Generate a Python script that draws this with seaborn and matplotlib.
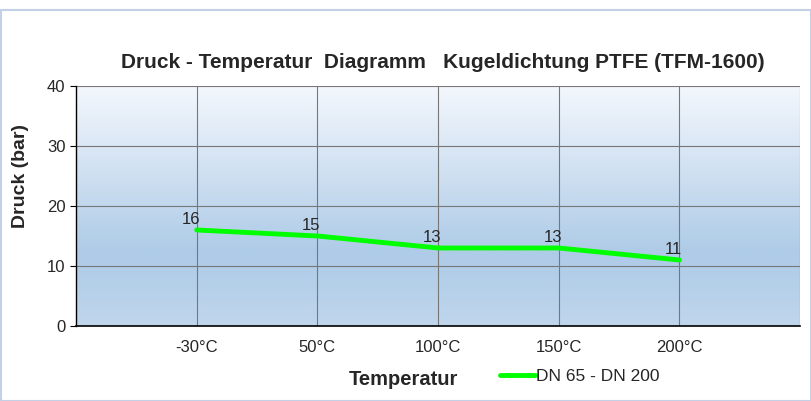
import numpy as np
import pandas as pd
import seaborn as sns
import matplotlib.pyplot as plt
from matplotlib.patches import Rectangle

temperatures = ['-30°C', '50°C', '100°C', '150°C', '200°C']
pressure = [16, 15, 13, 13, 11]
series_name = 'DN 65 - DN 200'

df = pd.DataFrame({'pos': np.arange(1, len(temperatures) + 1),
                   'Temperatur': temperatures,
                   'Druck': pressure})

sns.set_style('white')
plt.rcParams['font.family'] = ['Liberation Sans', 'DejaVu Sans']

fig = plt.figure(figsize=(8.11, 4.01), dpi=100)
ax = fig.add_axes([76 / 811, 1 - 326 / 401, 724 / 811, 240 / 401])

# outer frame of the chart object
fig.patches.append(Rectangle((0.001, 0), 0.999, 1 - 10 / 401, transform=fig.transFigure,
                             fill=False, edgecolor='#c3d0e6', linewidth=1.5))

# gradient background of the plot area (light at top, darker blue lower down)
grad = np.concatenate([np.linspace(0, 1, 70), np.linspace(1, 0.75, 30)])[:, None]
cmap = plt.matplotlib.colors.LinearSegmentedColormap.from_list('bg', ['#f3f7fd', '#aecbe7'])
ax.imshow(grad, extent=[0, 6, 0, 40], aspect='auto', cmap=cmap, zorder=0)

sns.lineplot(data=df, x='pos', y='Druck', color='#00ff00', linewidth=3.5,
             label=series_name, ax=ax, zorder=3)

for x, y in zip(df['pos'], df['Druck']):
    ax.text(x - 0.05, y + 0.5, str(y), ha='center', va='bottom', fontsize=12, zorder=4)

ax.set_xlim(0, 6)
ax.set_ylim(0, 40)
ax.set_xticks(df['pos'])
ax.set_xticklabels(temperatures, fontsize=12)
ax.set_xticks([0, 6], minor=True)
ax.tick_params(axis='x', which='major', length=0, pad=10)
ax.tick_params(axis='x', which='minor', length=5, color='#999999')
ax.set_yticks([0, 10, 20, 30, 40])
ax.tick_params(axis='y', labelsize=12, length=4, color='black', left=True)

for v in [1, 2, 3, 4, 5, 6]:
    ax.axvline(v, color='#777777', linewidth=0.8, zorder=1)
for v in [10, 20, 30, 40]:
    ax.axhline(v, color='#777777', linewidth=0.8, zorder=1)

for s in ['top', 'right']:
    ax.spines[s].set_visible(False)
ax.spines['left'].set_color('black')
ax.spines['bottom'].set_color('black')
ax.spines['left'].set_linewidth(1)
ax.spines['bottom'].set_linewidth(1.2)

ax.set_xlabel('Temperatur', fontsize=14.5, fontweight='bold')
ax.xaxis.set_label_coords((403 - 76) / 724, -(370 - 326) / 240)
ax.set_ylabel('Druck (bar)', fontsize=14, fontweight='bold')
ax.yaxis.set_label_coords(-(76 - 29) / 724, (326 - 176) / 240)
fig.text(443 / 811, 1 - 62 / 401, 'Druck - Temperatur  Diagramm   Kugeldichtung PTFE (TFM-1600)',
         ha='center', va='center', fontsize=15, fontweight='bold')

ax.legend(loc='center left', bbox_to_anchor=(500 / 811, 1 - 376 / 401),
          bbox_transform=fig.transFigure, frameon=False, fontsize=12.5,
          handlelength=2.0, handletextpad=0.1, borderaxespad=0, borderpad=0)

fig.savefig('out.png', dpi=100)
